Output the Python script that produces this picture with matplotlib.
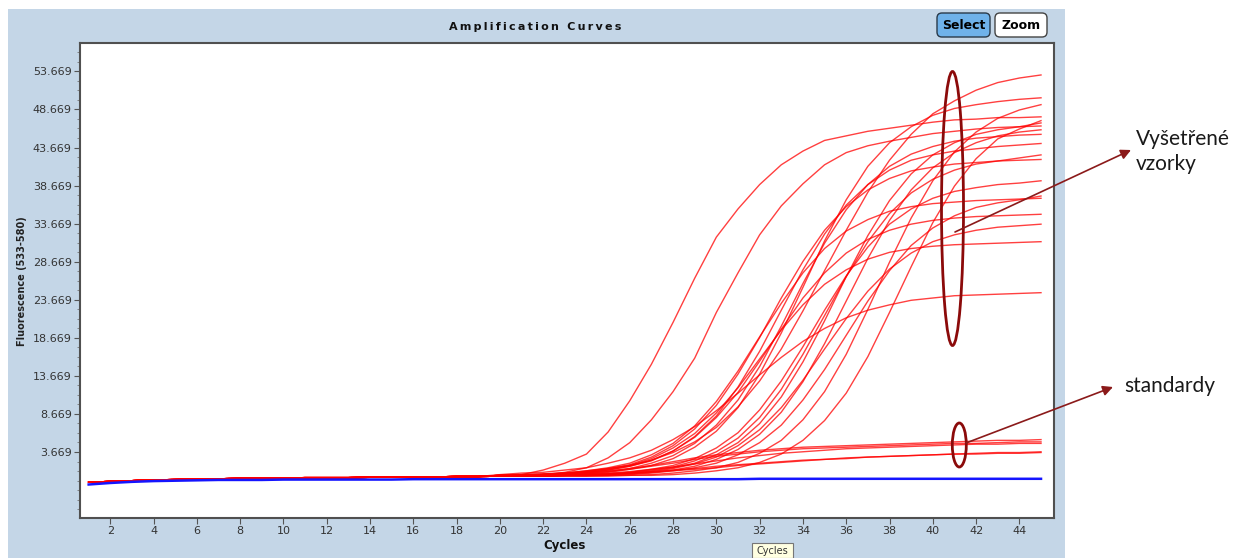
import matplotlib

matplotlib.use("Agg")

import numpy as np
import matplotlib.pyplot as plt
from matplotlib.patches import Ellipse, FancyBboxPatch, Rectangle

cycles = np.arange(1, 46)

# shared red baseline, cycles 1-19
red_base = [-0.3, -0.2, -0.1, 0.0, 0.05, 0.1, 0.15, 0.2, 0.25, 0.25,
            0.3, 0.3, 0.3, 0.35, 0.35, 0.4, 0.4, 0.45, 0.45]

# samples ("Vysetrene vzorky"), cycles 20-45
smp_a = [0.5, 0.7, 1.3, 2.2, 3.4, 6.3, 10.4, 15.2, 20.7, 26.5, 31.9, 35.6, 38.8, 41.4, 43.2, 44.6, 45.2, 45.8, 46.2, 46.6, 47.0, 47.3, 47.4, 47.6, 47.6, 47.7]
smp_b = [0.5, 0.5, 0.7, 1.0, 1.6, 2.9, 4.9, 7.9, 11.6, 16.0, 22.0, 27.2, 32.2, 36.0, 38.9, 41.4, 43.0, 43.9, 44.5, 45.0, 45.5, 45.8, 46.1, 46.3, 46.4, 46.5]
smp_c = [0.6, 0.6, 0.7, 0.9, 1.1, 1.5, 2.0, 3.0, 4.5, 6.7, 9.8, 13.9, 18.7, 23.9, 28.7, 32.8, 35.9, 38.1, 39.6, 40.6, 41.1, 41.5, 41.7, 41.9, 42.0, 42.1]
smp_d = [0.6, 0.6, 0.7, 0.9, 1.2, 1.6, 2.2, 3.3, 4.8, 7.1, 10.3, 14.3, 18.8, 23.2, 27.2, 30.4, 32.7, 34.2, 35.3, 35.9, 36.3, 36.5, 36.7, 36.8, 36.9, 37.0]
smp_e = [0.6, 0.6, 0.7, 0.8, 1.0, 1.3, 1.8, 2.6, 3.8, 5.6, 8.2, 11.5, 15.6, 19.8, 23.9, 27.2, 29.8, 31.6, 32.8, 33.6, 34.1, 34.4, 34.6, 34.7, 34.8, 34.9]
smp_f = [0.6, 0.6, 0.7, 0.8, 1.1, 1.4, 1.9, 2.8, 4.2, 6.1, 8.8, 12.1, 15.9, 19.7, 23.0, 25.7, 27.6, 29.0, 29.9, 30.4, 30.7, 30.9, 31.0, 31.1, 31.2, 31.3]
smp_g = [0.7, 0.9, 1.0, 1.3, 1.6, 2.2, 2.9, 3.9, 5.3, 7.0, 9.1, 11.4, 13.8, 16.1, 18.2, 19.9, 21.3, 22.3, 23.0, 23.6, 23.9, 24.2, 24.3, 24.4, 24.5, 24.6]
smp_h = [0.5, 0.6, 0.6, 0.7, 0.9, 1.1, 1.5, 2.2, 3.2, 4.8, 7.2, 10.5, 14.9, 20.2, 25.8, 31.1, 35.5, 38.8, 41.2, 42.8, 43.8, 44.5, 44.9, 45.1, 45.3, 45.4]
smp_i = [0.5, 0.5, 0.6, 0.6, 0.7, 0.8, 1.0, 1.4, 1.9, 2.8, 4.2, 6.2, 9.2, 13.0, 17.5, 22.3, 26.8, 30.6, 33.6, 35.6, 37.0, 37.9, 38.4, 38.8, 39.0, 39.3]
smp_j = [0.5, 0.5, 0.6, 0.6, 0.7, 0.8, 1.0, 1.3, 1.7, 2.5, 3.7, 5.5, 8.2, 11.9, 16.5, 21.6, 26.7, 31.3, 35.0, 37.7, 39.5, 40.7, 41.5, 41.9, 42.3, 42.7]
smp_k = [0.5, 0.5, 0.5, 0.6, 0.6, 0.7, 0.9, 1.2, 1.6, 2.2, 3.3, 4.9, 7.4, 10.9, 15.5, 20.9, 26.7, 32.1, 36.7, 40.2, 42.7, 44.3, 45.4, 46.0, 46.4, 46.9]
smp_l = [0.5, 0.5, 0.5, 0.6, 0.6, 0.6, 0.7, 0.9, 1.2, 1.6, 2.2, 3.3, 4.9, 7.2, 10.5, 14.5, 19.0, 23.5, 27.5, 30.8, 33.1, 34.7, 35.8, 36.4, 36.8, 37.3]
smp_m = [0.5, 0.5, 0.5, 0.6, 0.6, 0.7, 0.9, 1.1, 1.5, 2.1, 3.0, 4.5, 6.6, 9.5, 13.1, 17.2, 21.2, 24.8, 27.7, 29.8, 31.3, 32.2, 32.8, 33.2, 33.4, 33.6]
smp_n = [0.6, 0.7, 0.8, 0.9, 1.2, 1.5, 1.9, 2.6, 3.6, 5.0, 6.9, 9.6, 13.0, 17.2, 22.2, 27.5, 32.8, 37.8, 42.0, 45.4, 48.1, 49.8, 51.2, 52.2, 52.8, 53.2]
smp_o = [0.5, 0.6, 0.6, 0.7, 0.8, 1.0, 1.4, 1.9, 2.8, 4.3, 6.4, 9.5, 13.9, 19.3, 25.3, 31.4, 36.8, 41.2, 44.3, 46.4, 47.9, 48.8, 49.3, 49.7, 50.0, 50.2]
smp_q = [0.5, 0.5, 0.5, 0.5, 0.5, 0.6, 0.6, 0.7, 0.9, 1.2, 1.6, 2.3, 3.5, 5.2, 7.9, 11.6, 16.5, 22.4, 28.6, 34.4, 39.3, 43.1, 45.7, 47.5, 48.6, 49.3]
smp_r = [0.5, 0.5, 0.5, 0.5, 0.5, 0.5, 0.6, 0.6, 0.7, 0.9, 1.2, 1.6, 2.3, 3.4, 5.2, 7.8, 11.4, 16.2, 22.0, 28.0, 33.8, 38.6, 42.2, 44.8, 46.1, 47.2]
smp_s = [0.6, 0.6, 0.7, 0.8, 1.0, 1.3, 1.8, 2.5, 3.8, 5.7, 8.4, 12.2, 16.9, 22.3, 27.6, 32.3, 36.1, 38.8, 40.7, 42.0, 42.7, 43.2, 43.5, 43.8, 44.0, 44.2]
smp_t = [0.5, 0.5, 0.5, 0.6, 0.6, 0.7, 0.8, 1.0, 1.3, 1.8, 2.7, 4.0, 6.0, 8.9, 12.9, 17.9, 23.5, 29.1, 34.1, 38.1, 41.0, 43.0, 44.3, 45.2, 45.7, 46.0]

# standards, cycles 20-45
std_1 = [0.6, 0.7, 0.8, 0.9, 1.0, 1.2, 1.5, 1.9, 2.4, 2.9, 3.3, 3.6, 3.9, 4.1, 4.3, 4.4, 4.5, 4.6, 4.7, 4.8, 4.9, 5.0, 5.1, 5.2, 5.2, 5.3]
std_2 = [0.6, 0.6, 0.7, 0.8, 0.9, 1.1, 1.4, 1.8, 2.2, 2.7, 3.1, 3.4, 3.7, 3.9, 4.1, 4.2, 4.3, 4.4, 4.5, 4.6, 4.7, 4.8, 4.8, 4.9, 5.0, 5.0]
std_3 = [0.6, 0.6, 0.6, 0.7, 0.8, 0.9, 1.1, 1.4, 1.7, 2.1, 2.5, 2.9, 3.2, 3.5, 3.7, 3.9, 4.1, 4.2, 4.3, 4.4, 4.5, 4.6, 4.7, 4.7, 4.8, 4.8]
std_4 = [0.5, 0.6, 0.6, 0.6, 0.7, 0.8, 0.9, 1.1, 1.3, 1.5, 1.8, 2.0, 2.2, 2.4, 2.6, 2.7, 2.9, 3.0, 3.1, 3.2, 3.3, 3.4, 3.4, 3.5, 3.5, 3.6]
std_5 = [0.5, 0.5, 0.6, 0.6, 0.7, 0.7, 0.8, 1.0, 1.2, 1.4, 1.6, 1.9, 2.1, 2.3, 2.5, 2.7, 2.8, 3.0, 3.1, 3.2, 3.3, 3.4, 3.5, 3.6, 3.6, 3.7]

# negative control (blue), cycles 1-45
blue = [-0.6, -0.4, -0.25, -0.15, -0.1, -0.05, 0.0, 0.0, 0.0, 0.05,
        0.05, 0.05, 0.05, 0.05, 0.05, 0.1, 0.1, 0.1, 0.1, 0.1,
        0.1, 0.1, 0.1, 0.1, 0.1, 0.1, 0.1, 0.1, 0.1, 0.1,
        0.1, 0.15, 0.15, 0.15, 0.15, 0.15, 0.15, 0.15, 0.15, 0.15,
        0.15, 0.15, 0.15, 0.15, 0.15]

y_major = [3.669 + 5 * i for i in range(11)]
x_major = list(range(2, 45, 2))

red_curves = [smp_a, smp_b, smp_c, smp_d, smp_e, smp_f, smp_g, smp_h, smp_i, smp_j,
              smp_k, smp_l, smp_m, smp_n, smp_o, smp_q, smp_r, smp_s, smp_t,
              std_1, std_2, std_3, std_4, std_5]

W, H = 1235, 558
fig = plt.figure(figsize=(W / 100, H / 100), dpi=100, facecolor="white")

# background panel (pixel coords)
bg = fig.add_axes([0, 0, 1, 1], zorder=0)
bg.set_xlim(0, W)
bg.set_ylim(H, 0)
bg.axis("off")
bg.add_patch(Rectangle((8, 9), 1057, 549, facecolor="#c4d6e7", edgecolor="none"))

ax = fig.add_axes([80 / W, 40 / H, 974 / W, 475 / H], zorder=1)
ax.set_facecolor("white")
for vals in red_curves:
    ax.plot(cycles, red_base + vals, color="red", lw=1.0, alpha=0.75, zorder=2)
ax.plot(cycles, blue, color="#1515ff", lw=1.8, zorder=3)

ax.set_xlim(0.6, 45.6)
ax.set_ylim(-5.0, 57.4)
ax.set_xticks(x_major)
ax.set_yticks(y_major)
ax.set_yticklabels([f"{v:.3f}" for v in y_major])
ax.set_yticks(np.arange(3.669 - 7.5, 57.4, 1.25), minor=True)
ax.tick_params(axis="both", which="major", direction="out", length=4, width=0.8,
               color="#555555", labelsize=8, labelcolor="#333333", pad=2)
ax.tick_params(axis="y", which="minor", direction="out", length=2, width=0.6, color="#777777")
for side in ["left", "bottom", "top", "right"]:
    ax.spines[side].set_color("#505050")
    ax.spines[side].set_linewidth(1.5)

# overlay for titles, buttons and annotations (pixel coords)
ov = fig.add_axes([0, 0, 1, 1], zorder=2)
ov.set_xlim(0, W)
ov.set_ylim(H, 0)
ov.axis("off")
ov.patch.set_alpha(0)

title = "\u2009".join("Amplification Curves")
ov.text(535, 27, title, ha="center", va="center", fontsize=8,
        fontweight="bold", color="#111111")
ov.text(22, 281, "Fluorescence (533-580)", ha="center", va="center", rotation=90,
        fontsize=7, fontweight="bold", color="#222222")
ov.text(565, 546, "Cycles", ha="center", va="center", fontsize=8.5,
        fontweight="bold", color="#111111")

ov.add_patch(FancyBboxPatch((937, 13), 53, 24, boxstyle="round,pad=0,rounding_size=5",
                            facecolor="#6fb2ea", edgecolor="#2a3a4a", lw=1.0))
ov.text(963.5, 25.5, "Select", ha="center", va="center", fontsize=9, fontweight="bold")
ov.add_patch(FancyBboxPatch((995, 13), 52, 24, boxstyle="round,pad=0,rounding_size=5",
                            facecolor="white", edgecolor="#444444", lw=1.0))
ov.text(1021, 25.5, "Zoom", ha="center", va="center", fontsize=9, fontweight="bold")

ov.add_patch(Rectangle((752, 543), 41, 15, facecolor="#ffffe1", edgecolor="#767676", lw=0.8))
ov.text(772.5, 551.5, "Cycles", ha="center", va="center", fontsize=7, color="#333333")

dark = "#8b0a0a"
ov.add_patch(Ellipse((952.5, 208.5), 22, 274, fill=False, edgecolor=dark, lw=2.0))
ov.add_patch(Ellipse((959.3, 445), 14, 44, fill=False, edgecolor=dark, lw=2.0))
ov.annotate("", xy=(1131, 150), xytext=(955, 232),
            arrowprops=dict(arrowstyle="-|>", color="#8b1a1a", lw=1.2,
                            mutation_scale=15, shrinkA=0, shrinkB=0))
ov.annotate("", xy=(1113, 387), xytext=(966, 443),
            arrowprops=dict(arrowstyle="-|>", color="#8b1a1a", lw=1.2,
                            mutation_scale=15, shrinkA=0, shrinkB=0))

ov.text(1136, 139, "Vyšetřené", ha="left", va="center", fontsize=15, family="Lato", color="#1a1a1a")
ov.text(1136, 164, "vzorky", ha="left", va="center", fontsize=15, family="Lato", color="#1a1a1a")
ov.text(1124, 386, "standardy", ha="left", va="center", fontsize=15, family="Lato", color="#1a1a1a")

fig.savefig("out.png", dpi=100, facecolor="white")
